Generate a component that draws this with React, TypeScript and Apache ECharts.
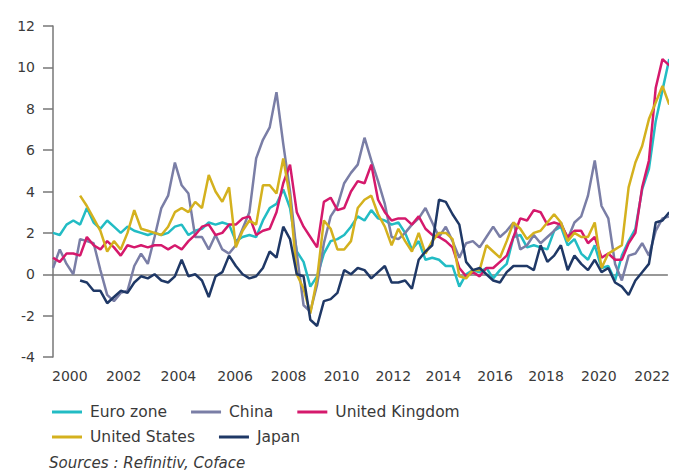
import React, { useEffect, useRef } from "react";
import * as echarts from "echarts";

// Quarterly year-on-year inflation (%), Jan/Apr/Jul/Oct
const euroStart = 2000;
const euroZone = [
  2.0, 1.9, 2.4, 2.6, 2.4, 3.2, 2.5, 2.2, 2.6, 2.3, 2.0, 2.3, 2.1, 2.0, 1.9, 2.0,
  1.9, 2.0, 2.3, 2.4, 1.9, 2.1, 2.2, 2.5, 2.4, 2.5, 2.4, 1.6, 1.8, 1.9, 1.8, 2.6,
  3.2, 3.4, 4.1, 3.2, 1.1, 0.6, -0.6, -0.1, 1.0, 1.6, 1.7, 1.9, 2.3, 2.8, 2.6, 3.1,
  2.7, 2.6, 2.4, 2.5, 2.0, 1.2, 1.6, 0.7, 0.8, 0.7, 0.4, 0.4, -0.6, 0.0, 0.2, 0.1,
  0.3, -0.2, 0.2, 0.5, 1.8, 1.9, 1.3, 1.4, 1.3, 1.2, 2.1, 2.3, 1.4, 1.7, 1.0, 0.7,
  1.4, 0.3, 0.4, -0.3, 0.9, 1.6, 2.2, 4.1, 5.1, 7.4, 8.9, 10.4,
];
const chinaStart = 2000;
const china = [
  0.3, 1.2, 0.5, 0.0, 1.7, 1.6, 1.5, 0.2, -1.0, -1.3, -0.9, -0.8, 0.4, 1.0, 0.5, 1.8,
  3.2, 3.8, 5.4, 4.3, 3.9, 1.8, 1.8, 1.2, 1.9, 1.2, 1.0, 1.4, 2.2, 3.0, 5.6, 6.5,
  7.1, 8.8, 6.3, 4.0, 1.0, -1.5, -1.8, -0.5, 1.5, 2.8, 3.3, 4.4, 4.9, 5.3, 6.6, 5.5,
  4.5, 3.4, 1.8, 1.7, 2.0, 2.4, 2.7, 3.2, 2.5, 1.8, 2.3, 1.6, 0.8, 1.5, 1.6, 1.3,
  1.8, 2.3, 1.8, 2.1, 2.5, 1.2, 1.4, 1.9, 1.5, 1.8, 2.1, 2.5, 1.7, 2.5, 2.8, 3.8,
  5.5, 3.3, 2.7, 0.5, -0.3, 0.9, 1.0, 1.5, 0.9, 2.1, 2.7, 2.8,
];
const ukStart = 2000;
const unitedKingdom = [
  0.8, 0.6, 1.0, 1.0, 0.9, 1.8, 1.4, 1.2, 1.6, 1.3, 0.9, 1.4, 1.3, 1.4, 1.3, 1.4,
  1.4, 1.2, 1.4, 1.2, 1.6, 1.9, 2.3, 2.4, 1.9, 2.0, 2.4, 2.4, 2.7, 2.8, 1.9, 2.1,
  2.2, 3.0, 4.4, 5.3, 3.0, 2.3, 1.8, 1.3, 3.5, 3.7, 3.1, 3.2, 4.0, 4.5, 4.4, 5.3,
  3.6, 3.0, 2.6, 2.7, 2.7, 2.4, 2.8, 2.2, 1.9, 1.8, 1.6, 1.3, 0.3, -0.1, 0.1, -0.1,
  0.3, 0.3, 0.6, 0.9, 1.8, 2.7, 2.6, 3.1, 3.0, 2.4, 2.5, 2.4, 1.8, 2.1, 2.1, 1.5,
  1.8, 0.8, 1.0, 0.7, 0.7, 1.5, 2.0, 4.2, 5.5, 9.0, 10.4, 10.1,
];
const usStart = 2001;
const unitedStates = [
  3.8, 3.3, 2.7, 2.1, 1.1, 1.6, 1.2, 2.0, 3.1, 2.2, 2.1, 2.0,
  1.9, 2.3, 3.0, 3.2, 3.0, 3.5, 3.2, 4.8, 4.0, 3.5, 4.2, 1.3, 2.1, 2.6, 2.4, 4.3,
  4.3, 3.9, 5.6, 3.7, 0.0, -0.7, -1.9, -0.2, 2.6, 2.2, 1.2, 1.2, 1.6, 3.2, 3.6, 3.8,
  2.9, 2.3, 1.4, 2.2, 1.6, 1.1, 2.0, 1.0, 1.6, 2.0, 2.0, 1.7, -0.1, -0.2, 0.2, 0.2,
  1.4, 1.1, 0.8, 1.6, 2.5, 2.2, 1.7, 2.0, 2.1, 2.5, 2.9, 2.5, 1.6, 2.0, 1.8, 1.8,
  2.5, 0.3, 1.0, 1.2, 1.4, 4.2, 5.4, 6.2, 7.5, 8.3, 9.1, 8.2,
];
const japanStart = 2001;
const japan = [
  -0.3, -0.4, -0.8, -0.8, -1.4, -1.1, -0.8, -0.9, -0.4, -0.1, -0.2, 0.0,
  -0.3, -0.4, -0.1, 0.7, -0.1, 0.0, -0.3, -1.1, -0.1, 0.1, 0.9, 0.4, 0.0, -0.2, -0.1, 0.3,
  1.1, 0.8, 2.3, 1.7, 0.0, -0.1, -2.2, -2.5, -1.3, -1.2, -0.9, 0.2, 0.0, 0.3, 0.2, -0.2,
  0.1, 0.4, -0.4, -0.4, -0.3, -0.7, 0.7, 1.1, 1.4, 3.6, 3.5, 2.9, 2.4, 0.6, 0.2, 0.3,
  0.0, -0.3, -0.4, 0.1, 0.4, 0.4, 0.4, 0.2, 1.4, 0.6, 0.9, 1.4, 0.2, 0.9, 0.5, 0.2,
  0.7, 0.1, 0.3, -0.4, -0.6, -1.0, -0.3, 0.1, 0.5, 2.5, 2.6, 3.0,
];

const xTickLabels = ["2000", "2002", "2004", "2006", "2008", "2010", "2012", "2014", "2016", "2018", "2020", "2022"];
const xTickPositions = [2000.62, 2002.61, 2004.63, 2006.72, 2008.7, 2010.65, 2012.56, 2014.41, 2016.32, 2018.2, 2020.15, 2022.12];

const seriesNames = ["Euro zone", "China", "United Kingdom", "United States", "Japan"];
const seriesColors = ["#22bcc4", "#7a7ea6", "#d5196c", "#d4b11e", "#1f3866"];

function toPairs(start: number, values: number[]) {
  return values.map((v, i) => [start + i * 0.25, v]);
}

export default function App() {
  const ref = useRef<HTMLDivElement>(null);
  useEffect(() => {
    document.body.style.margin = "0";
    const chart = echarts.init(ref.current!, undefined, { renderer: "svg" });
    const font = "DejaVu Sans";
    const allData = [
      toPairs(euroStart, euroZone),
      toPairs(chinaStart, china),
      toPairs(ukStart, unitedKingdom),
      toPairs(usStart, unitedStates),
      toPairs(japanStart, japan),
    ];
    const legendCommon = {
      left: 52,
      orient: "horizontal" as const,
      icon: "rect",
      itemWidth: 30,
      itemHeight: 3,
      itemGap: 24,
      padding: 0,
      textStyle: { fontFamily: font, fontSize: 15.5, color: "#3a3a3a", padding: [0, 0, 0, 3] },
    };
    chart.setOption({
      animation: false,
      backgroundColor: "#ffffff",
      title: {
        text: "Sources : Refinitiv, Coface",
        left: 49,
        top: 455,
        padding: 0,
        textStyle: { fontFamily: font, fontSize: 15, fontStyle: "italic", fontWeight: "normal", color: "#3a3a3a" },
      },
      legend: [
        { ...legendCommon, top: 404, data: seriesNames.slice(0, 3) },
        { ...legendCommon, top: 429, data: seriesNames.slice(3) },
      ],
      grid: { left: 53, right: 3, top: 26, bottom: 116 },
      xAxis: {
        type: "value",
        min: 2000,
        max: 2022.68,
        axisLine: { show: true, lineStyle: { color: "#777", width: 1.5 } },
        axisTick: { show: false },
        splitLine: { show: false },
        axisLabel: {
          customValues: xTickPositions,
          formatter: (v: number) => {
            const i = xTickPositions.findIndex((p) => Math.abs(p - v) < 0.01);
            return i >= 0 ? xTickLabels[i] : "";
          },
          fontFamily: font,
          fontSize: 14,
          color: "#3a3a3a",
          margin: 12,
        },
      },
      yAxis: {
        type: "value",
        min: -4,
        max: 12,
        interval: 2,
        axisLine: { show: true, lineStyle: { color: "#777", width: 1.5 } },
        axisTick: { show: true, length: 10, lineStyle: { color: "#777", width: 1.5 } },
        splitLine: { show: false },
        axisLabel: { fontFamily: font, fontSize: 14, color: "#3a3a3a", margin: 18 },
      },
      series: seriesNames.map((name, i) => ({
        name,
        type: "line",
        data: allData[i],
        showSymbol: false,
        symbol: "none",
        clip: true,
        lineStyle: { color: seriesColors[i], width: 2.5 },
        itemStyle: { color: seriesColors[i] },
      })),
    });
    return () => chart.dispose();
  }, []);
  return <div ref={ref} style={{ position: "fixed", left: 0, top: 0, width: 673, height: 473 }} />;
}
